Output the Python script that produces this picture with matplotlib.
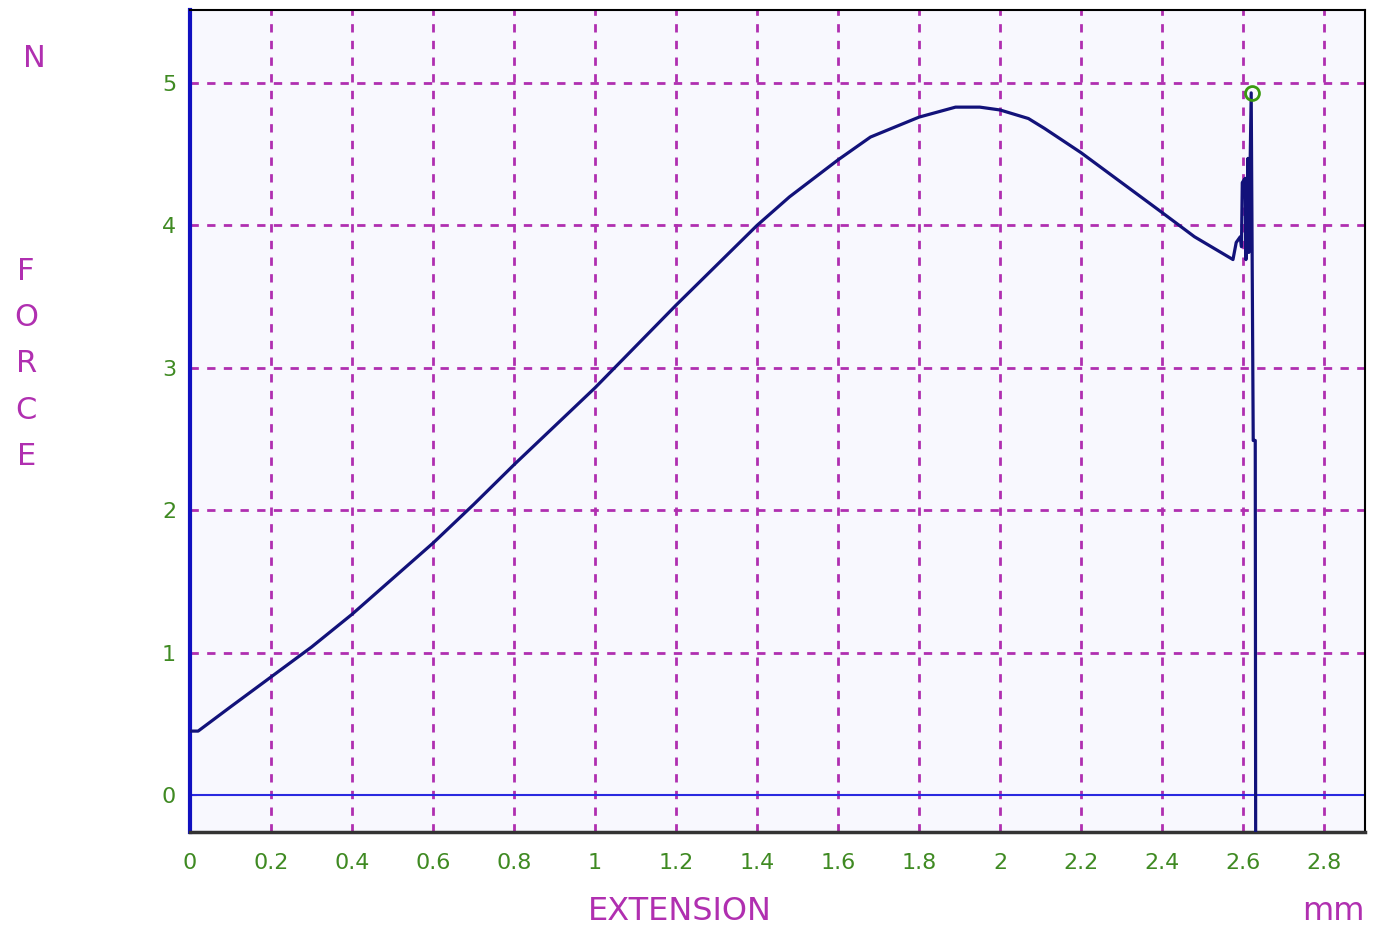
import matplotlib
matplotlib.use("Agg")
import matplotlib.pyplot as plt

# extension (mm) vs force (N)
ext = [0.0, 0.02, 0.1, 0.2, 0.3, 0.4, 0.5, 0.6, 0.7, 0.8, 0.9, 1.0, 1.1,
       1.2, 1.3, 1.4, 1.48, 1.6, 1.68, 1.8, 1.89, 1.95, 2.0, 2.07, 2.11,
       2.2, 2.3, 2.4, 2.48, 2.575, 2.583, 2.593, 2.596, 2.598, 2.605, 2.607,
       2.609, 2.612, 2.614, 2.620, 2.625, 2.630, 2.631]
force = [0.45, 0.45, 0.62, 0.83, 1.04, 1.27, 1.52, 1.77, 2.04, 2.32, 2.59,
         2.86, 3.15, 3.44, 3.72, 4.00, 4.20, 4.46, 4.62, 4.76, 4.83, 4.83,
         4.81, 4.75, 4.68, 4.51, 4.30, 4.09, 3.92, 3.76, 3.88, 3.92, 3.85,
         4.30, 4.33, 3.76, 4.09, 4.47, 3.81, 4.93, 2.49, 2.49, -0.25]
peak_ext, peak_force = 2.622, 4.93

xticks = [0, 0.2, 0.4, 0.6, 0.8, 1, 1.2, 1.4, 1.6, 1.8, 2, 2.2, 2.4, 2.6, 2.8]
yticks = [0, 1, 2, 3, 4, 5]

MAGENTA = "#b02fb0"
TICKCOL = "#3f8a22"
CURVE = "#12127a"

fig = plt.figure(figsize=(13.77, 9.33), dpi=100)
ax = fig.add_axes([0.138, 0.108, 0.853, 0.881])
ax.set_facecolor("#f8f8fe")

ax.set_xlim(0, 2.9)
ax.set_ylim(-0.26, 5.51)

# dashed grid
for x in xticks[1:]:
    ax.axvline(x, color=MAGENTA, lw=2, ls=(0, (3, 3)), zorder=1)
for y in yticks[1:]:
    ax.axhline(y, color=MAGENTA, lw=2, ls=(0, (3, 3)), zorder=1)
ax.axhline(0, color="#2a2ae0", lw=1.5, zorder=2)

ax.plot(ext, force, color=CURVE, lw=2.3, zorder=3)
ax.plot([peak_ext], [peak_force], "o", mfc="none", mec="#3a9a10", mew=2,
        ms=10, zorder=4)

ax.set_xticks(xticks)
ax.set_xticklabels([f"{v:g}" for v in xticks])
ax.set_yticks(yticks)
ax.tick_params(axis="both", colors=MAGENTA, labelcolor=TICKCOL, labelsize=16,
               direction="in", length=4)
ax.tick_params(axis="x", pad=15)
ax.tick_params(axis="y", pad=10)

for s in ["top", "right"]:
    ax.spines[s].set_color("black")
    ax.spines[s].set_linewidth(1.5)
ax.spines["bottom"].set_color("#333333")
ax.spines["bottom"].set_linewidth(2.5)
ax.spines["left"].set_color("#1010c0")
ax.spines["left"].set_linewidth(3)

fig.text(0.025, 0.937, "N", color=MAGENTA, fontsize=22, ha="center", va="center")
for i, ch in enumerate("FORCE"):
    fig.text(0.019, 0.709 - i * 0.0495, ch, color=MAGENTA, fontsize=22,
             ha="center", va="center")
fig.text(0.494, 0.023, "EXTENSION", color=MAGENTA, fontsize=23, ha="center",
         va="center")
fig.text(0.968, 0.023, "mm", color=MAGENTA, fontsize=23, ha="center",
         va="center")

fig.savefig("out.png", dpi=100)
